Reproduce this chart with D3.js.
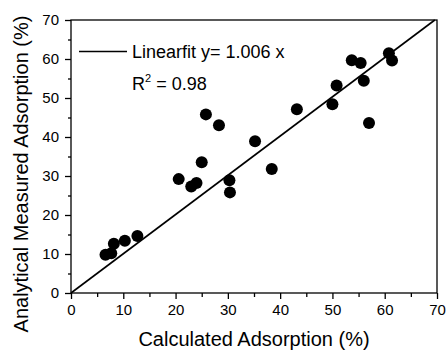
<!DOCTYPE html>
<html><head><meta charset="utf-8">
<script src="https://cdn.jsdelivr.net/npm/d3@7"></script>
<style>body{margin:0;background:#fff}svg{display:block}text{font-family:"Liberation Sans",Arial,sans-serif;fill:#000}</style>
</head><body><svg id="c" width="447" height="350"></svg>
<script>
const calculated = [6.6, 7.7, 8.2, 10.3, 12.7, 20.6, 23.0, 24.0, 25.0, 25.8, 28.3, 30.3, 30.4, 35.2, 38.4, 43.2, 50.0, 50.8, 53.7, 55.4, 56.0, 57.0, 60.8, 61.4];
const measured   = [9.8, 10.2, 12.6, 13.4, 14.6, 29.2, 27.3, 28.2, 33.5, 45.8, 43.0, 28.9, 25.8, 38.9, 31.8, 47.1, 48.4, 53.2, 59.7, 59.0, 54.4, 43.6, 61.5, 59.6];
const slope = 1.006;
const xTicks = [0,10,20,30,40,50,60,70];
const yTicks = [0,10,20,30,40,50,60,70];
const legendText = "Linearfit y= 1.006 x";
const r2Text = "= 0.98";

const svg = d3.select("#c");
const L=71, R=437, T=20, B=293;
const x = d3.scaleLinear().domain([0,70]).range([L,R]);
const y = d3.scaleLinear().domain([0,70]).range([B,T]);

// frame
svg.append("rect").attr("x",L).attr("y",T).attr("width",R-L).attr("height",B-T)
  .attr("fill","none").attr("stroke","#000").attr("stroke-width",1.3);

// minor ticks
const minor = d3.range(5,70,10);
const xa = svg.append("g").attr("transform",`translate(0,${B})`)
  .call(d3.axisBottom(x).tickValues(xTicks).tickSize(6).tickPadding(5).tickFormat(d3.format("d")));
const ya = svg.append("g").attr("transform",`translate(${L},0)`)
  .call(d3.axisLeft(y).tickValues(yTicks).tickSize(6).tickPadding(6).tickFormat(d3.format("d")));
svg.append("g").attr("transform",`translate(0,${B})`)
  .call(d3.axisBottom(x).tickValues(minor).tickSize(4).tickFormat(""));
svg.append("g").attr("transform",`translate(${L},0)`)
  .call(d3.axisLeft(y).tickValues(minor).tickSize(3).tickFormat(""));
svg.selectAll(".domain").remove();
svg.selectAll(".tick line").attr("stroke","#000").attr("stroke-width",1.3);
svg.selectAll(".tick text").attr("font-size",15).attr("font-family","Liberation Sans, Arial, sans-serif").attr("fill","#000");

// fit line
const xEnd = 70/slope;
svg.append("line").attr("x1",x(0)).attr("y1",y(0)).attr("x2",x(xEnd)).attr("y2",y(slope*xEnd))
  .attr("stroke","#000").attr("stroke-width",1.6);

// points
svg.append("g").selectAll("circle").data(calculated.map((c,i)=>[c,measured[i]])).join("circle")
  .attr("cx",d=>x(d[0])).attr("cy",d=>y(d[1])).attr("r",6).attr("fill","#000");

// legend
svg.append("line").attr("x1",79).attr("x2",127).attr("y1",51.5).attr("y2",51.5).attr("stroke","#000").attr("stroke-width",1.6);
svg.append("text").attr("x",132).attr("y",58).attr("font-size",18).text(legendText);
const r2 = svg.append("text").attr("x",132).attr("y",90).attr("font-size",18);
r2.append("tspan").text("R");
r2.append("tspan").attr("font-size",11).attr("dy",-8).text("2");
r2.append("tspan").attr("dy",8).text(" " + r2Text);

// axis titles
svg.append("text").attr("x",(L+R)/2).attr("y",346).attr("text-anchor","middle").attr("font-size",20).text("Calculated Adsorption (%)");
svg.append("text").attr("transform","translate(28,174) rotate(-90)").attr("text-anchor","middle").attr("font-size",20).text("Analytical Measured Adsorption (%)");
</script></body></html>
